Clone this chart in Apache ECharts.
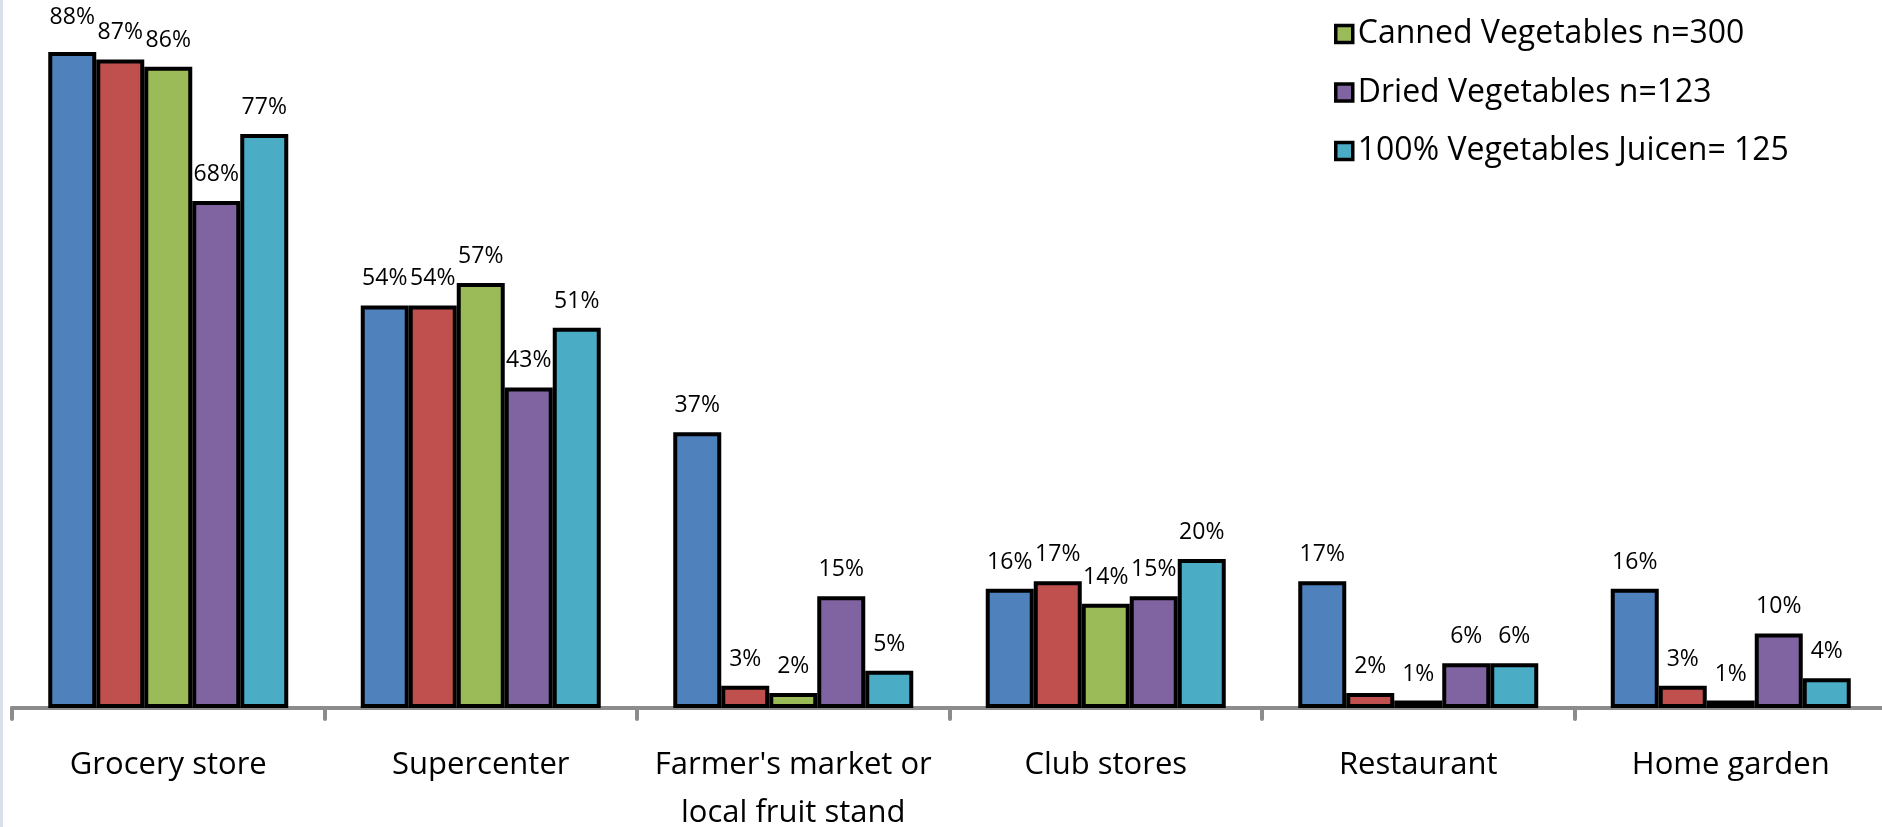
<!DOCTYPE html>
<html>
<head>
<meta charset="utf-8">
<script src="https://cdn.jsdelivr.net/npm/echarts@6/dist/echarts.min.js"></script>
<style>
  html, body { margin: 0; padding: 0; background: #ffffff; }
  #chart { width: 1882px; height: 827px; }
</style>
</head>
<body>
<div id="chart"></div>
<script>
const categories = ['Grocery store', 'Supercenter', "Farmer's market or\nlocal fruit stand", 'Club stores', 'Restaurant', 'Home garden'];
const seriesNames = ['Fresh Vegetables', 'Frozen Vegetables', 'Canned Vegetables n=300', 'Dried Vegetables n=123', '100% Vegetables Juicen= 125'];
const legendNames = ['Canned Vegetables n=300', 'Dried Vegetables n=123', '100% Vegetables Juicen= 125'];
const freshValues = [88, 54, 37, 16, 17, 16];
const frozenValues = [87, 54, 3, 17, 2, 3];
const cannedValues = [86, 57, 2, 14, 1, 1];
const driedValues = [68, 43, 15, 15, 6, 10];
const juiceValues = [77, 51, 5, 20, 6, 4];
const seriesValues = [freshValues, frozenValues, cannedValues, driedValues, juiceValues];
const colors = ['#4F81BD', '#C0504D', '#9BBB59', '#8064A2', '#4BACC6'];

const chart = echarts.init(document.getElementById('chart'), null, { renderer: 'canvas' });
const FONT = '"Open Sans", "Liberation Sans", sans-serif';

chart.setOption({
  animation: false,
  backgroundColor: '#ffffff',
  graphic: [{
    type: 'rect', left: 0, top: 0,
    shape: { width: 3, height: 827 },
    style: { fill: '#d9e0eb' }, silent: true
  }],
  legend: {
    data: legendNames,
    orient: 'vertical',
    left: 1334,
    top: 14,
    padding: 0,
    itemGap: 18.5,
    itemWidth: 17,
    itemHeight: 17,
    icon: 'rect',
    selectedMode: false,
    itemStyle: { borderColor: '#000', borderWidth: 3.5 },
    textStyle: { fontFamily: FONT, fontSize: 32, color: '#000', lineHeight: 40 }
  },
  grid: { left: 12, right: -5, top: -37.5, bottom: 119, containLabel: false, outerBoundsMode: 'none' },
  xAxis: {
    type: 'category',
    data: categories,
    axisLine: { show: true, lineStyle: { color: '#8c8c8c', width: 4, cap: 'round' } },
    axisTick: { show: true, length: 11, lineStyle: { color: '#8c8c8c', width: 4, cap: 'round' } },
    axisLabel: { interval: 0, margin: 33, fontFamily: FONT, fontSize: 31, color: '#000', lineHeight: 48 },
    splitLine: { show: false }
  },
  yAxis: {
    type: 'value', min: 0, max: 100, show: false
  },
  series: seriesNames.map((name, i) => ({
    name: name,
    type: 'bar',
    data: seriesValues[i].map((v, j) => (i === 0 && j === 0)
      ? { value: v, label: { offset: [0, -8] } }
      : v),
    barGap: '0%',
    barCategoryGap: '23.2%',
    itemStyle: { color: colors[i], borderColor: '#000', borderWidth: 4 },
    label: {
      show: true, position: 'top', distance: 15,
      formatter: '{c}%',
      fontFamily: FONT, fontSize: 23, color: '#000'
    }
  }))
});
</script>
</body>
</html>
